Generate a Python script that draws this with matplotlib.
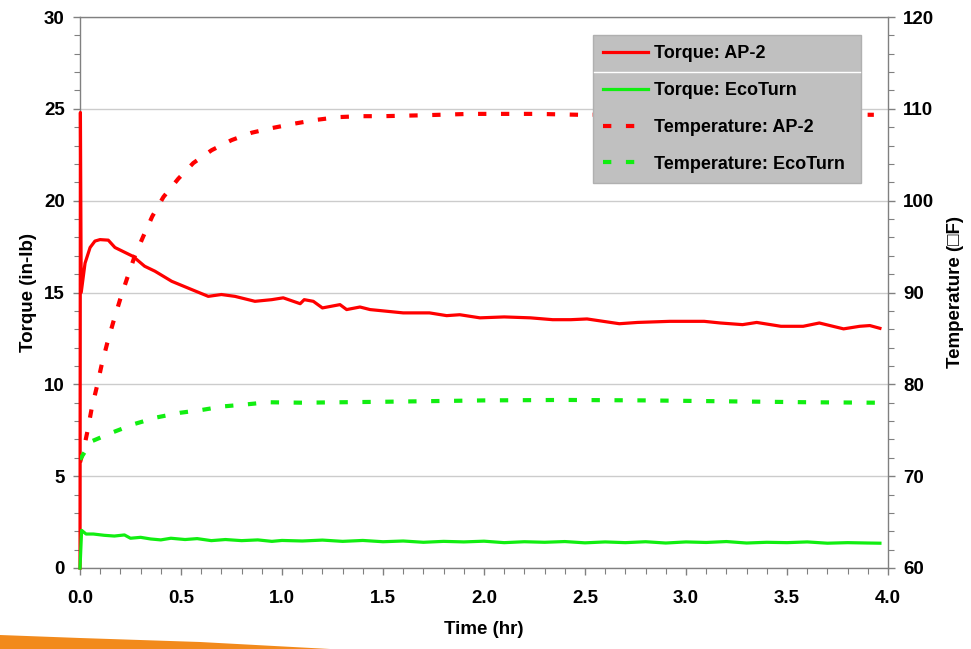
import matplotlib
matplotlib.use("Agg")
import matplotlib.pyplot as plt
from matplotlib.lines import Line2D
from matplotlib.patches import Polygon

plt.rcParams['font.family'] = ['Liberation Sans', 'DejaVu Sans']
plt.rcParams['font.weight'] = 'bold'

# Torque: AP-2 (in-lb)
t_torque_ap2 = [0.0, 0.002, 0.006, 0.025, 0.05, 0.074, 0.099, 0.14, 0.173, 0.223,
                0.262, 0.32, 0.371, 0.454, 0.553, 0.635, 0.70, 0.767, 0.866, 0.949,
                1.006, 1.09, 1.11, 1.155, 1.2, 1.287, 1.32, 1.386, 1.436, 1.518,
                1.60, 1.73, 1.815, 1.88, 1.98, 2.1, 2.23, 2.34, 2.43, 2.51,
                2.59, 2.67, 2.76, 2.92, 3.09, 3.17, 3.28, 3.35, 3.47, 3.58,
                3.66, 3.78, 3.86, 3.91, 3.96]
torque_ap2 = [0.0, 24.8, 15.0, 16.6, 17.45, 17.8, 17.88, 17.85, 17.45, 17.18,
              16.97, 16.43, 16.16, 15.61, 15.16, 14.79, 14.89, 14.79, 14.52, 14.61,
              14.71, 14.39, 14.61, 14.52, 14.16, 14.34, 14.07, 14.21, 14.07, 13.98,
              13.89, 13.89, 13.74, 13.79, 13.62, 13.67, 13.62, 13.52, 13.52, 13.56,
              13.43, 13.30, 13.37, 13.43, 13.43, 13.34, 13.25, 13.37, 13.16, 13.16,
              13.34, 13.02, 13.16, 13.20, 13.05]

# Torque: EcoTurn (in-lb)
t_torque_eco = [0.0, 0.008, 0.03, 0.066, 0.12, 0.17, 0.22, 0.25, 0.30, 0.35,
                0.40, 0.45, 0.52, 0.58, 0.65, 0.72, 0.8, 0.88, 0.95, 1.0,
                1.1, 1.2, 1.3, 1.4, 1.5, 1.6, 1.7, 1.8, 1.9, 2.0,
                2.1, 2.2, 2.3, 2.4, 2.5, 2.6, 2.7, 2.8, 2.9, 3.0,
                3.1, 3.2, 3.3, 3.4, 3.5, 3.6, 3.7, 3.8, 3.9, 3.96]
torque_eco = [0.0, 2.05, 1.85, 1.85, 1.78, 1.74, 1.80, 1.62, 1.67, 1.58,
              1.53, 1.62, 1.55, 1.60, 1.49, 1.55, 1.49, 1.53, 1.45, 1.50,
              1.47, 1.52, 1.45, 1.50, 1.43, 1.47, 1.40, 1.45, 1.42, 1.46,
              1.38, 1.43, 1.40, 1.44, 1.37, 1.42, 1.38, 1.43, 1.36, 1.42,
              1.39, 1.44, 1.36, 1.40, 1.38, 1.42, 1.35, 1.38, 1.36, 1.35]

# Temperature: AP-2 (F)
t_temp_ap2 = [0.0, 0.008, 0.016, 0.038, 0.058, 0.083, 0.107, 0.135, 0.165, 0.198,
              0.231, 0.27, 0.313, 0.358, 0.413, 0.487, 0.561, 0.652, 0.751, 0.85,
              0.949, 1.064, 1.17, 1.28, 1.39, 1.50, 1.7, 1.93, 2.26, 2.475,
              2.8, 3.2, 3.6, 3.93]
temp_ap2 = [71.5, 72.1, 72.7, 75.0, 77.4, 79.7, 82.1, 84.5, 86.8, 89.2,
            91.4, 93.9, 96.1, 98.3, 100.4, 102.4, 104.1, 105.5, 106.6, 107.4,
            107.9, 108.4, 108.8, 109.1, 109.2, 109.2, 109.3, 109.45, 109.45, 109.35,
            109.4, 109.4, 109.4, 109.35]

# Temperature: EcoTurn (F)
t_temp_eco = [0.0, 0.005, 0.058, 0.165, 0.272, 0.38, 0.495, 0.60, 0.71, 0.817,
              0.93, 1.1, 1.5, 2.0, 2.4, 2.8, 3.2, 3.6, 3.94]
temp_eco = [71.8, 72.0, 73.8, 74.8, 75.7, 76.4, 76.9, 77.2, 77.6, 77.8,
            78.05, 78.0, 78.1, 78.25, 78.3, 78.25, 78.15, 78.05, 78.0]

red = '#ff0000'
green = '#11ee11'

fig = plt.figure(figsize=(9.71, 6.49), dpi=100)
ax = fig.add_axes([80 / 971, 1 - 568 / 649, 808 / 971, 551 / 649])
ax2 = ax.twinx()

l1, = ax.plot(t_torque_ap2, torque_ap2, color=red, lw=2.3, label='Torque: AP-2',
              zorder=3, clip_on=False)
l2, = ax.plot(t_torque_eco, torque_eco, color=green, lw=2.3, label='Torque: EcoTurn',
              zorder=3, clip_on=False)
l3, = ax2.plot(t_temp_ap2, temp_ap2, color=red, lw=3, dashes=(2, 3.5),
               label='Temperature: AP-2')
l4, = ax2.plot(t_temp_eco, temp_eco, color=green, lw=3, dashes=(2, 3.5),
               label='Temperature: EcoTurn')

ax.set_xlim(0, 4)
ax.set_ylim(0, 30)
ax2.set_ylim(60, 120)
ax.set_xticks([0, 0.5, 1, 1.5, 2, 2.5, 3, 3.5, 4])
ax.set_xticks([i / 10 for i in range(41)], minor=True)
ax.set_yticks(range(0, 31, 5))
ax.set_yticks(range(0, 31), minor=True)
ax2.set_yticks(range(60, 121, 10))
ax2.set_yticks(range(60, 121, 2), minor=True)
ax.xaxis.set_major_formatter(matplotlib.ticker.FormatStrFormatter('%.1f'))

ax.grid(axis='y', which='major', color='#cccccc', lw=1)
ax.set_axisbelow(True)

for a in (ax, ax2):
    for s in a.spines.values():
        s.set_color('#808080')
        s.set_linewidth(1)
    a.tick_params(which='both', direction='out', colors='#808080', labelcolor='black',
                  labelsize=13.5)
    a.tick_params(which='major', length=5, width=1)
    a.tick_params(which='minor', length=4, width=0.8)
for side in ('left', 'top', 'bottom'):
    ax2.spines[side].set_visible(False)
ax.spines['right'].set_visible(False)
ax.tick_params(axis='x', pad=11)
ax.tick_params(axis='y', pad=6)
ax2.tick_params(axis='y', pad=6)

ax.set_xlabel('Time (hr)', fontsize=13.5, fontweight='bold', labelpad=10)
ax.set_ylabel('Torque (in-lb)', fontsize=13.5, fontweight='bold', labelpad=5)
ax2.set_ylabel('Temperature (\u25a1F)', fontsize=13.5, fontweight='bold', labelpad=9)

leg = ax2.legend(handles=[l1, l2, l3, l4], loc='upper left',
                 bbox_to_anchor=(0.635, 0.700, 0.332, 0.267), mode='expand',
                 borderaxespad=0, fontsize=13, frameon=True, fancybox=False,
                 facecolor='#c0c0c0', edgecolor='#b0b0b0', framealpha=1,
                 handlelength=2.5, handletextpad=0.3, labelspacing=1.1,
                 borderpad=0.55)
leg.get_frame().set_linewidth(1)

# white separator line inside the legend box
fig.add_artist(Line2D([594 / 971, 860 / 971], [1 - 72 / 649, 1 - 72 / 649],
                      color='white', lw=1, transform=fig.transFigure, zorder=10))

# orange swoosh at the bottom
fig.patches.append(Polygon([(0.0, 0.0), (0.0, 14 / 649), (80 / 971, 11 / 649),
                            (200 / 971, 7 / 649), (330 / 971, 0.0)],
                           closed=True, transform=fig.transFigure,
                           facecolor='#f28a1c', edgecolor='none'))

fig.savefig('out.png', dpi=100)
